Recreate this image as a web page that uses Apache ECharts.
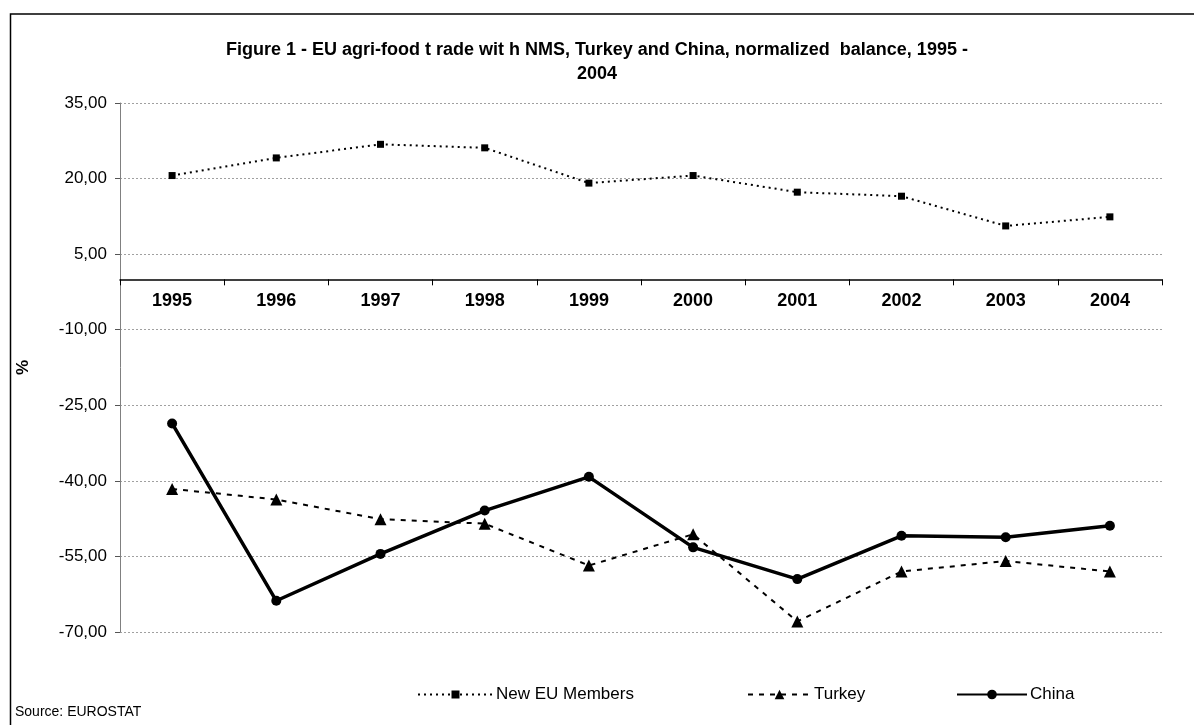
<!DOCTYPE html>
<html>
<head>
<meta charset="utf-8">
<script src="https://cdn.jsdelivr.net/npm/echarts@6/dist/echarts.min.js"></script>
<style>
html,body{margin:0;padding:0;background:#fff;}
#chart{width:1194px;height:725px;}
</style>
</head>
<body>
<div id="chart"></div>
<script>
const years = ['1995','1996','1997','1998','1999','2000','2001','2002','2003','2004'];
const newEU = [20.6, 24.1, 26.8, 26.1, 19.1, 20.6, 17.3, 16.5, 10.6, 12.4];
const turkey = [-41.6, -43.7, -47.6, -48.5, -56.8, -50.6, -67.9, -58.0, -55.9, -58.0];
const china = [-28.6, -63.8, -54.5, -45.9, -39.2, -53.2, -59.5, -50.9, -51.2, -48.9];
const yMin = -70, yMax = 35, yStep = 15;

const FONT = '"Liberation Sans", Arial, sans-serif';
const GRID_TOP = 103, GRID_BOTTOM = 93, H = 725;
const plotH = H - GRID_TOP - GRID_BOTTOM;
// place the category axis at value 0
const zeroOffset = -((0 - yMin) / (yMax - yMin)) * plotH;

const chart = echarts.init(document.getElementById('chart'));
chart.setOption({
  backgroundColor: '#fff',
  animation: false,
  textStyle: { fontFamily: FONT, color: '#000' },
  title: {
    text: 'Figure 1 - EU agri-food t rade wit h NMS, Turkey and China, normalized  balance, 1995 -\n2004',
    left: 'center',
    top: 33,
    textStyle: { fontFamily: FONT, fontSize: 18, fontWeight: 'bold', color: '#000', lineHeight: 24, align: 'center' }
  },
  grid: { left: 120, right: 32, top: GRID_TOP, bottom: GRID_BOTTOM, containLabel: false },
  legend: [
    { data: ['New EU Members'], left: 412, top: 681, itemWidth: 75, itemHeight: 10, textStyle: { fontFamily: FONT, fontSize: 17, color: '#000', padding: [0,0,0,-2] } },
    { data: ['Turkey'], left: 742, top: 681, itemWidth: 63, itemHeight: 12, textStyle: { fontFamily: FONT, fontSize: 17, color: '#000', padding: [0,0,0,-2] } },
    { data: ['China'], left: 951, top: 681, itemWidth: 70, itemHeight: 12, textStyle: { fontFamily: FONT, fontSize: 17, color: '#000', padding: [0,0,0,-2] } }
  ],
  xAxis: {
    type: 'category',
    data: years,
    boundaryGap: true,
    position: 'bottom',
    offset: zeroOffset,
    axisLine: { onZero: false, lineStyle: { color: '#000', width: 1.5 } },
    axisTick: { show: true, length: 6, inside: false, lineStyle: { color: '#000' } },
    axisLabel: { margin: 13, fontFamily: FONT, fontSize: 18, fontWeight: 'bold', color: '#000' },
    splitLine: { show: false }
  },
  yAxis: {
    type: 'value',
    min: yMin, max: yMax, interval: yStep,
    name: '%',
    nameLocation: 'middle',
    nameGap: 88,
    nameRotate: 90,
    nameTextStyle: { fontFamily: FONT, fontSize: 17, fontWeight: 'bold', color: '#000' },
    axisLine: { show: true, lineStyle: { color: '#808080', width: 1 } },
    axisTick: { show: true, length: 5, lineStyle: { color: '#555' } },
    axisLabel: {
      margin: 13, fontFamily: FONT, fontSize: 17, color: '#000',
      formatter: v => v.toFixed(2).replace('.', ',')
    },
    splitLine: { show: true, lineStyle: { color: '#a0a0a0', width: 1, type: [2, 2] } }
  },
  series: [
    {
      name: 'New EU Members', type: 'line', data: newEU,
      symbol: 'rect', symbolSize: 7,
      itemStyle: { color: '#000' },
      lineStyle: { color: '#000', width: 2, type: [2, 4] }
    },
    {
      name: 'Turkey', type: 'line', data: turkey,
      symbol: 'triangle', symbolSize: 12,
      itemStyle: { color: '#000' },
      lineStyle: { color: '#000', width: 2, type: [5, 6] }
    },
    {
      name: 'China', type: 'line', data: china,
      symbol: 'circle', symbolSize: 10,
      itemStyle: { color: '#000' },
      lineStyle: { color: '#000', width: 3.5, type: 'solid' }
    }
  ],
  graphic: [
    { type: 'rect', silent: true, z: -1, shape: { x: 10.5, y: 14, width: 1200, height: 730 }, style: { fill: 'none', stroke: '#000', lineWidth: 1.5 } },
    { type: 'text', left: 15, top: 705, style: { text: 'Source: EUROSTAT', fontFamily: FONT, fontSize: 14, fill: '#000' } }
  ]
});
</script>
</body>
</html>
